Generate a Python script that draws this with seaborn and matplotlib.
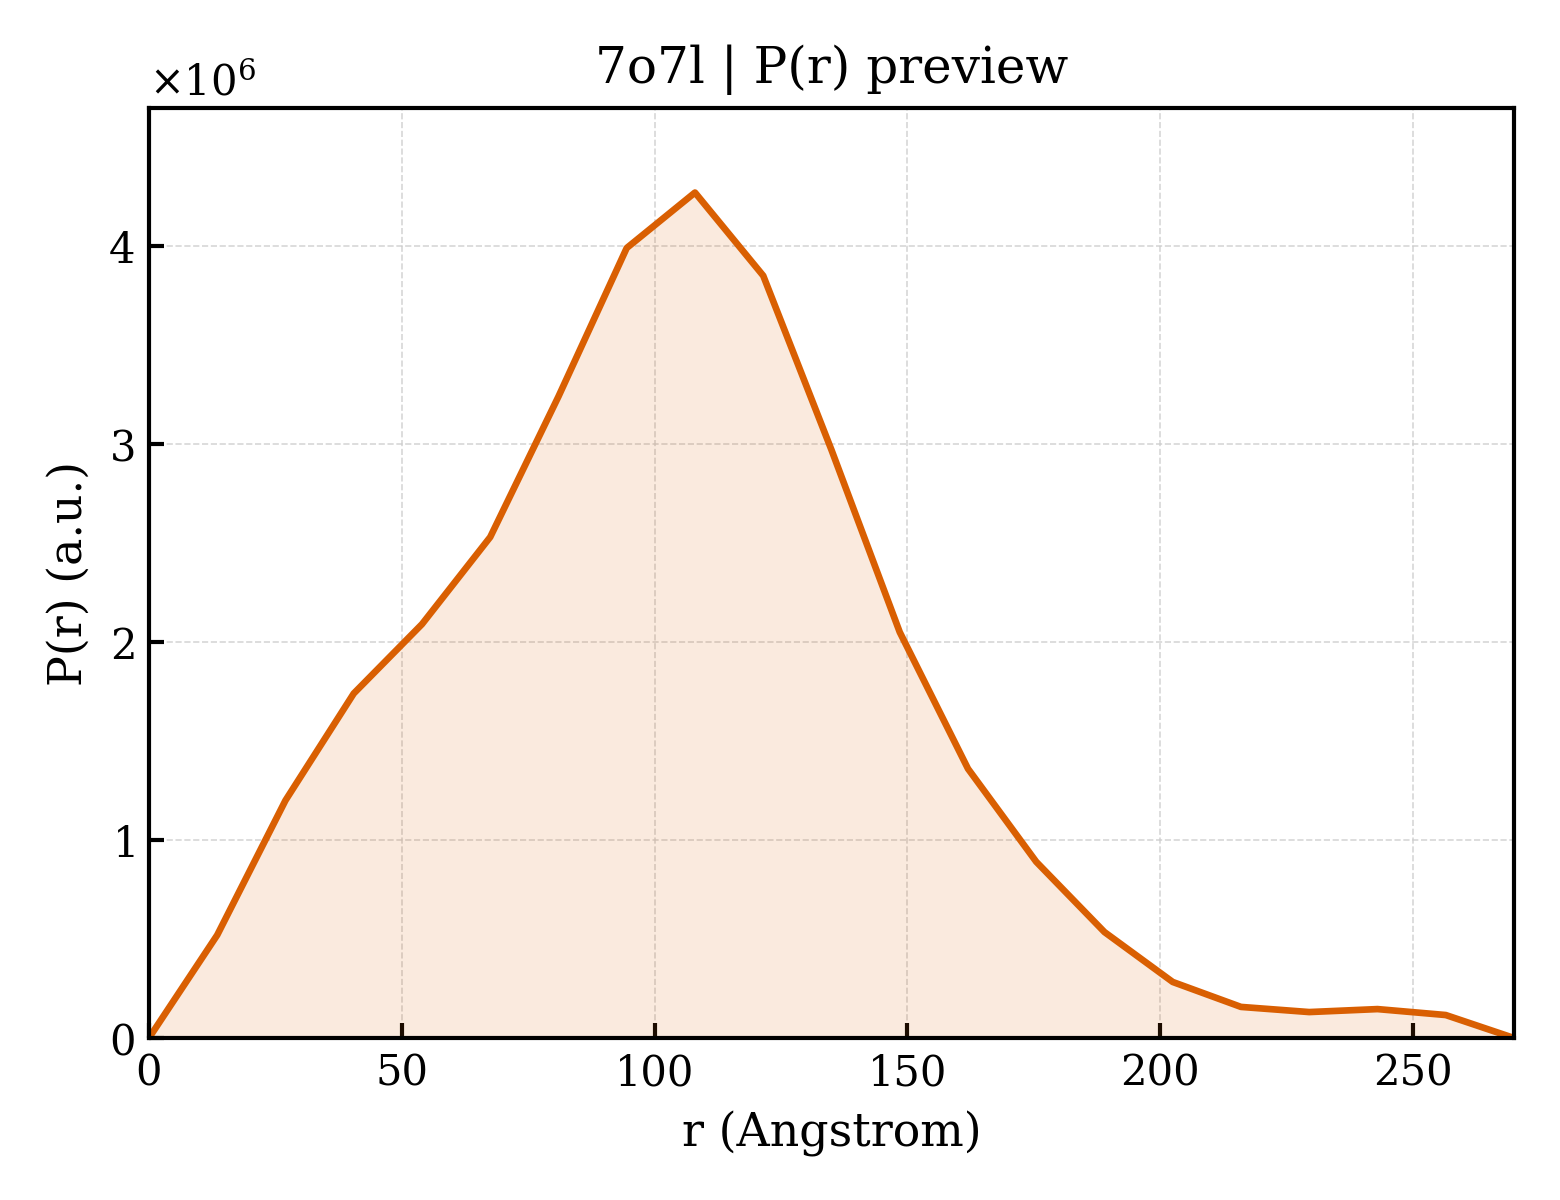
import numpy as np
import pandas as pd
import matplotlib
matplotlib.use("Agg")
import matplotlib.pyplot as plt
import seaborn as sns

r_values = [0, 13.5, 27, 40.5, 54, 67.5, 81, 94.5, 108, 121.5, 135, 148.5,
            162, 175.5, 189, 202.5, 216, 229.5, 243, 256.5, 270]
pr_values = [0.0, 0.52, 1.20, 1.74, 2.09, 2.53, 3.24, 3.99, 4.27, 3.85, 2.97,
             2.05, 1.36, 0.89, 0.535, 0.283, 0.157, 0.131, 0.146, 0.116, 0.0]
pr_values = [v * 1e6 for v in pr_values]

title = "7o7l | P(r) preview"
xlabel = "r (Angstrom)"
ylabel = "P(r) (a.u.)"

df = pd.DataFrame({"r": r_values, "pr": pr_values})

sns.set_theme(style="white")
plt.rcParams["font.family"] = ["DejaVu Serif"]
plt.rcParams["mathtext.fontset"] = "dejavuserif"
plt.rcParams["text.color"] = "black"
plt.rcParams["axes.labelcolor"] = "black"
plt.rcParams["xtick.color"] = "black"
plt.rcParams["ytick.color"] = "black"

fig, ax = plt.subplots(figsize=(5.2, 4.0), dpi=300)
color = "#D95F02"
sns.lineplot(data=df, x="r", y="pr", ax=ax, color=color, linewidth=1.6)
ax.fill_between(df["r"], df["pr"], 0, color=color, alpha=0.13, linewidth=0)

ax.set_xlim(0, 270)
ax.set_ylim(0, max(pr_values) * 1.1)
ax.set_title(title, fontsize=12, color="black")
ax.set_xlabel(xlabel, fontsize=11, color="black")
ax.set_ylabel(ylabel, fontsize=11, color="black")
ax.ticklabel_format(axis="y", style="sci", scilimits=(0, 0), useMathText=True)
ax.yaxis.get_offset_text().set_fontsize(10)
ax.yaxis.get_offset_text().set_color("black")
ax.tick_params(direction="in", length=3.5, width=1, labelsize=10, colors="black",
               bottom=True, left=True)
ax.grid(True, linestyle="--", linewidth=0.4, color="#cccccc", alpha=0.8)
for s in ax.spines.values():
    s.set_color("black")
    s.set_linewidth(1.0)

fig.subplots_adjust(left=0.0955, right=0.9705, top=0.91, bottom=0.135)
fig.savefig("out.png", dpi=300)
